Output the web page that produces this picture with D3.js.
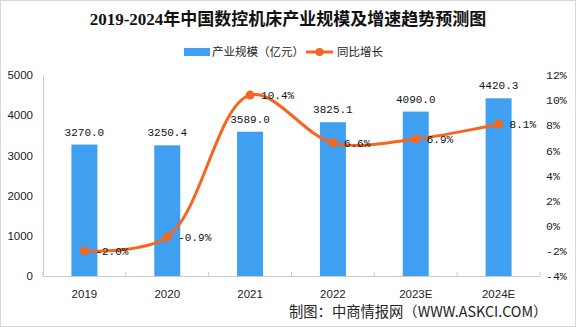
<!DOCTYPE html>
<html><head><meta charset="utf-8">
<script src="https://cdn.jsdelivr.net/npm/d3@7/dist/d3.min.js"></script>
<style>html,body{margin:0;padding:0;background:#fff;}svg{display:block;}</style>
</head><body>
<script>
const years = ["2019","2020","2021","2022","2023E","2024E"];
const scale = [3270.0, 3250.4, 3589.0, 3825.1, 4090.0, 4420.3];
const growth = [-2.0, -0.9, 10.4, 6.6, 6.9, 8.1];
const leftTicks = [0,1000,2000,3000,4000,5000];
const rightTicks = [-4,-2,0,2,4,6,8,10,12];
const title = "2019-2024年中国数控机床产业规模及增速趋势预测图";
const legendNames = ["产业规模（亿元）","同比增长"];
const source = "制图：中商情报网（WWW.ASKCI.COM）";

const W=576,H=327;
const L=43,R=540,T=75,B=276;
const barColor="#3f9ff0", lineColor="#f5661f";
const svg=d3.select("body").append("svg").attr("width",W).attr("height",H);
svg.append("rect").attr("x",0.5).attr("y",0.5).attr("width",W-1).attr("height",H-1).attr("fill","#fff").attr("stroke","#d9d9d9");

const x=d3.scaleBand().domain(years).range([L,R]);
const yL=d3.scaleLinear().domain([0,5000]).range([B,T]);
const yR=d3.scaleLinear().domain([-4,12]).range([B,T]);

svg.append("text").attr("x",288).attr("y",25).attr("text-anchor","middle")
  .attr("font-family","'Liberation Serif','Noto Sans CJK SC',serif").attr("font-weight","bold").attr("font-size",17).attr("fill","#111").text(title);

// legend
const lg=svg.append("g").attr("font-family","'Noto Sans CJK SC',sans-serif").attr("font-size",11.5).attr("fill","#222");
lg.append("rect").attr("x",184).attr("y",48).attr("width",26).attr("height",8).attr("fill",barColor);
lg.append("text").attr("x",212).attr("y",56).text(legendNames[0]);
lg.append("line").attr("x1",306).attr("x2",333).attr("y1",52).attr("y2",52).attr("stroke",lineColor).attr("stroke-width",3);
lg.append("circle").attr("cx",319.5).attr("cy",52).attr("r",4).attr("fill",lineColor);
lg.append("text").attr("x",337).attr("y",56).text(legendNames[1]);

// left axis
const la=svg.append("g").attr("transform",`translate(${L},0)`).call(d3.axisLeft(yL).tickValues(leftTicks).tickFormat(d3.format("d")).tickSize(0).tickPadding(10));
la.select(".domain").attr("stroke","#ccc");
la.selectAll("text").attr("font-family","'Liberation Sans',Arial,sans-serif").attr("font-size",11.5).attr("fill","#222");

// right axis
const ra=svg.append("g").attr("transform",`translate(${R},0)`).call(d3.axisRight(yR).tickValues(rightTicks).tickSize(0).tickPadding(6).tickFormat(d=>d+"%"));
ra.select(".domain").remove();
ra.selectAll("text").attr("font-family","'Liberation Mono','DejaVu Sans Mono',monospace").attr("font-size",11.5).attr("fill","#222");

// x axis
const xa=svg.append("g").attr("transform",`translate(0,${B})`).call(d3.axisBottom(x).tickSize(0).tickPadding(14));
xa.select(".domain").attr("stroke","#ccc");
xa.selectAll("text").attr("font-family","'Liberation Sans',Arial,sans-serif").attr("font-size",11.5).attr("fill","#222");
const bounds=years.map(d=>x(d)).concat([R]);
xa.selectAll(".bt").data(bounds).enter().append("line").attr("x1",d=>d).attr("x2",d=>d).attr("y1",0).attr("y2",-4).attr("stroke","#ccc");

// bars
const bw=26;
svg.selectAll(".bar").data(scale).enter().append("rect")
  .attr("x",(d,i)=>x(years[i])+x.bandwidth()/2-bw/2).attr("width",bw)
  .attr("y",d=>yL(d)).attr("height",d=>B-yL(d)).attr("fill",barColor);
svg.selectAll(".bl").data(scale).enter().append("text")
  .attr("x",(d,i)=>x(years[i])+x.bandwidth()/2).attr("y",d=>yL(d)-9).attr("text-anchor","middle")
  .attr("font-family","'Liberation Mono','DejaVu Sans Mono',monospace").attr("font-size",11).attr("fill","#111")
  .text(d=>d.toFixed(1));

// line
const cx=i=>x(years[i])+x.bandwidth()/2;
const line=d3.line().x((d,i)=>cx(i)).y(d=>yR(d)).curve(d3.curveCatmullRom.alpha(0.5));
svg.append("path").datum(growth).attr("d",line).attr("fill","none").attr("stroke",lineColor).attr("stroke-width",3);
svg.selectAll(".pt").data(growth).enter().append("circle").attr("cx",(d,i)=>cx(i)).attr("cy",d=>yR(d)).attr("r",4.5).attr("fill",lineColor);
svg.selectAll(".pl").data(growth).enter().append("text")
  .attr("x",(d,i)=>cx(i)+11).attr("y",d=>yR(d)+4)
  .attr("font-family","'Liberation Mono','DejaVu Sans Mono',monospace").attr("font-size",11).attr("fill","#111")
  .text(d=>d.toFixed(1)+"%");

svg.append("text").attr("x",289).attr("y",317).attr("font-family","'Noto Sans CJK SC',sans-serif").attr("font-size",14.3).attr("fill","#222").text(source);
</script>
</body></html>
